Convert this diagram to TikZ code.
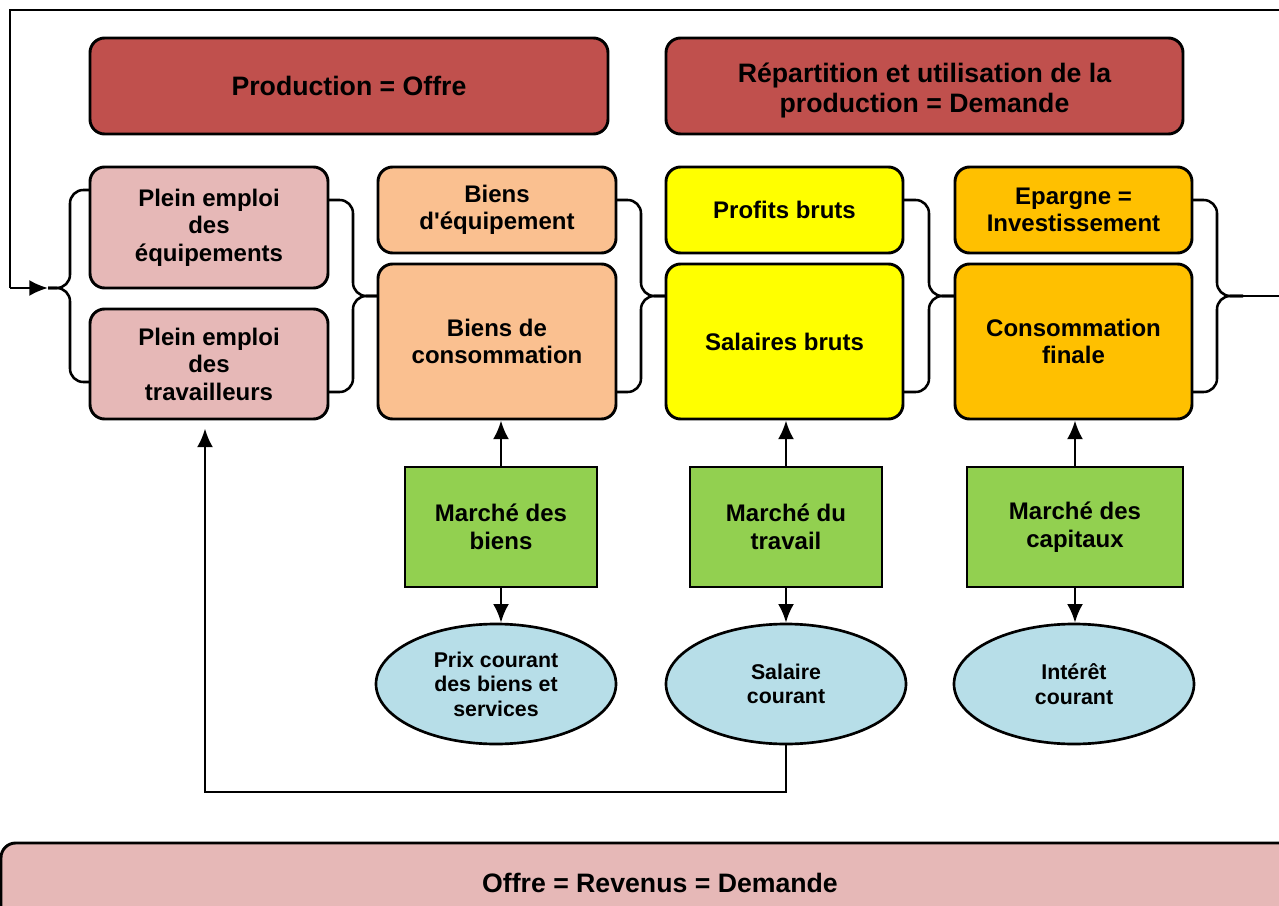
\documentclass[tikz,border=0pt]{standalone}
\usepackage{fontspec}
\setmainfont{Liberation Sans}[Ligatures=TeXOff]
\usetikzlibrary{arrows.meta,shapes.geometric}
\definecolor{hdred}{HTML}{C0504D}
\definecolor{lpink}{HTML}{E6B8B7}
\definecolor{lorange}{HTML}{FAC090}
\definecolor{yel}{HTML}{FFFF00}
\definecolor{orng}{HTML}{FFC000}
\definecolor{mgreen}{HTML}{92D050}
\definecolor{lblue}{HTML}{B7DEE8}
\begin{document}
\begin{tikzpicture}[x=0.75pt,y=-0.75pt,
  sz/.style 2 args={minimum width=#1*0.75pt, minimum height=#2*0.75pt},
  box/.style={draw=black, line width=2.2pt, rounded corners=11pt, inner sep=0pt, align=center, font=\bfseries\fontsize{18}{20.6}\selectfont},
  head/.style={box, fill=hdred, font=\bfseries\fontsize{20}{22.5}\selectfont},
  mkt/.style={draw=black, line width=2.2pt, fill=mgreen, inner sep=0pt, align=center, font=\bfseries\fontsize{18}{21}\selectfont},
  ell/.style={ellipse, draw=black, line width=2pt, fill=lblue, minimum width=180pt, minimum height=90pt, inner sep=0pt, align=center, font=\bfseries\fontsize{16}{18.4}\selectfont},
  arr/.style={line width=1.9pt, -{Latex[length=14pt,width=12pt]}},
  brace/.style={line width=1.9pt, rounded corners=10pt}]
\useasboundingbox (0,0) rectangle (1279,906);

% headers
\node[head, sz={518}{96}] (prod) at (349,86) {Production = Offre};
\node[head, sz={517}{96}] (rep) at (924.5,86) {};
\node[font=\bfseries\fontsize{20}{22.5}\selectfont, align=center, inner sep=0pt] (reptxt) at (924.5,90) {Répartition et utilisation de la\\production = Demande};

% column 1
\node[box, fill=lpink, sz={238}{121}] (peq) at (209,227.5) {Plein emploi\\des\\équipements};
\node[box, fill=lpink, sz={238}{110}] (ptr) at (209,364) {Plein emploi\\des\\travailleurs};
% column 2
\node[box, fill=lorange, sz={238}{86}] (beq) at (497,210) {Biens\\d'équipement};
\node[box, fill=lorange, sz={238}{155}] (bco) at (497,341.5) {Biens de\\consommation};
% column 3
\node[box, fill=yel, sz={237}{86}] (prof) at (784.5,210) {Profits bruts};
\node[box, fill=yel, sz={237}{155}] (sal) at (784.5,341.5) {Salaires bruts};
% column 4
\node[box, fill=orng, sz={237}{86}] (epa) at (1073.5,210) {Epargne =\\Investissement};
\node[box, fill=orng, sz={237}{155}] (cons) at (1073.5,341.5) {Consommation\\finale};

% markets
\node[mkt, sz={192}{120}] (mb) at (501,527) {Marché des\\biens};
\node[mkt, sz={192}{120}] (mt) at (786,527) {Marché du\\travail};
\node[mkt, sz={216}{120}] (mc) at (1075,527) {Marché des\\capitaux};

% ellipses
\node[ell] (e1) at (496,684) {Prix courant\\des biens et\\services};
\node[ell] (e2) at (786,684) {Salaire\\courant};
\node[ell] (e3) at (1074,684) {Intérêt\\courant};

% bottom bar
\node[box, fill=lpink, sz={1318}{80}, font=\bfseries\fontsize{20}{22.5}\selectfont] (bot) at (660,883) {Offre = Revenus = Demande};

% arrows market -> boxes and -> ellipses
\draw[arr] (mb.north) -- (mb.north |- bco.south);
\draw[arr] (mt.north) -- (mt.north |- sal.south);
\draw[arr] (mc.north) -- (mc.north |- cons.south);
\draw[arr] (mb.south) -- (mb.south |- e1.north);
\draw[arr] (mt.south) -- (mt.south |- e2.north);
\draw[arr] (mc.south) -- (mc.south |- e3.north);

% feedback from salaire courant
\coordinate (fb1) at (786,792);
\coordinate (fb2) at (205,792);
\draw[arr] (e2.south) -- (fb1) -- (fb2) -- ([yshift=-6pt]fb2 |- ptr.south);

% brace tips
\coordinate (t0) at (48,288);
\coordinate (t1) at (378,296);
\coordinate (t2) at (666,296);
\coordinate (t3) at (955,296);
\coordinate (t4) at (1243,296);
\coordinate (fr1) at (1295,296);
\coordinate (fr2) at (1295,10);
\coordinate (fr3) at (10,10);
\coordinate (fr4) at (10,288);

% braces
\draw[brace] (90,190) -- (70,190) -- (70,288) -- (t0);
\draw[brace] (t0) -- (70,288) -- (70,382) -- (90,382);
\draw[brace] (328,200) -- (353,200) -- (353,296) -- (t1);
\draw[brace] (t1) -- (353,296) -- (353,392) -- (328,392);
\draw[brace] (616,200) -- (641,200) -- (641,296) -- (t2);
\draw[brace] (t2) -- (641,296) -- (641,392) -- (616,392);
\draw[brace] (903,200) -- (929,200) -- (929,296) -- (t3);
\draw[brace] (t3) -- (929,296) -- (929,392) -- (903,392);
\draw[brace] (1192,200) -- (1217,200) -- (1217,296) -- (t4);
\draw[brace] (t4) -- (1217,296) -- (1217,392) -- (1192,392);

% outer loop
\draw[line width=1.9pt] (t4) -- (fr1) -- (fr2) -- (fr3) -- (fr4);
\draw[arr] (fr4) -- (t0);
\end{tikzpicture}
\end{document}
